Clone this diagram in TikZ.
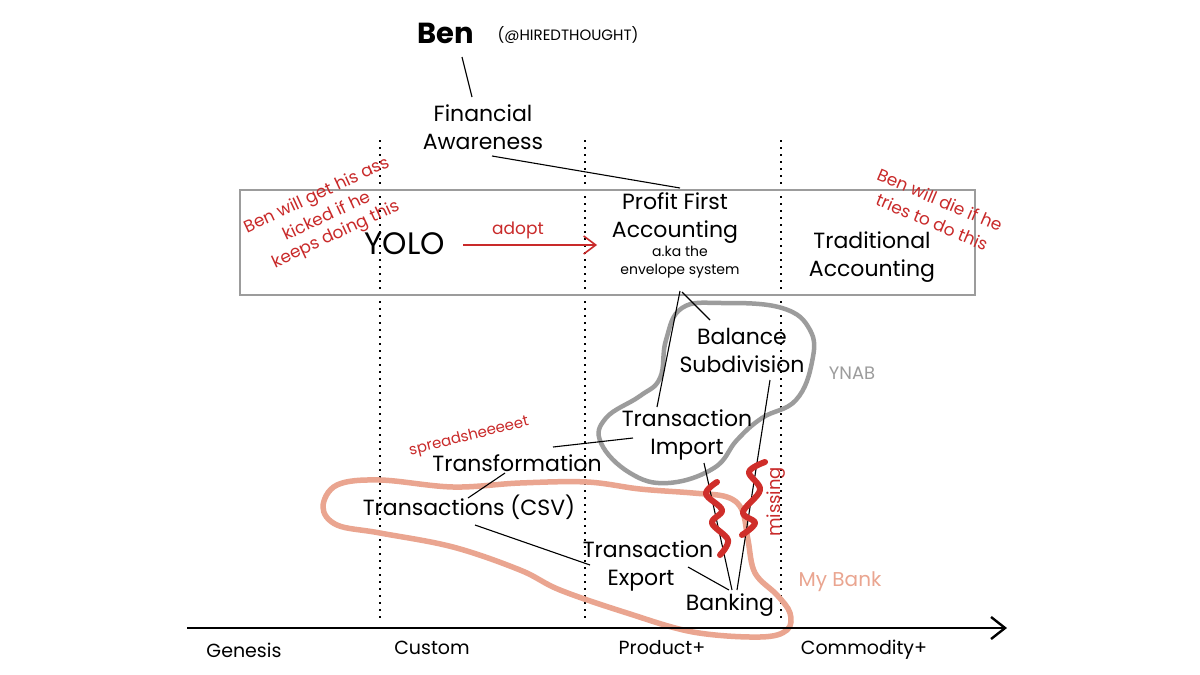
\documentclass[tikz,border=0pt]{standalone}
\usepackage{fontspec}
\setmainfont{Poppins}
\usetikzlibrary{arrows.meta}
\definecolor{redink}{HTML}{C92A2A}
\definecolor{grayink}{HTML}{9C9C9C}
\definecolor{salmon}{HTML}{EAA590}
\definecolor{squig}{HTML}{CF2E2A}
\begin{document}
\begin{tikzpicture}[x=1pt,y=-1pt,
  lbl/.style={font=\fontsize{22}{28}\selectfont, align=center, inner sep=0pt},
  small/.style={font=\fontsize{14}{18}\selectfont, align=center, inner sep=0pt},
  note/.style={font=\fontsize{17}{21}\selectfont, text=redink, align=center, inner sep=0pt},
  axislbl/.style={font=\fontsize{19}{22}\selectfont, inner sep=0pt},
  link/.style={draw=black, line width=1.1pt},
  guide/.style={draw=black, line width=1.4pt, dash pattern=on 2pt off 5pt},
  frame/.style={draw=grayink, line width=1.3pt},
  ynabblob/.style={draw=grayink, line width=4.5pt, line join=round},
  bankblob/.style={draw=salmon, line width=5.5pt, line join=round},
  squiggle/.style={draw=squig, line width=6pt, line cap=round, line join=round},
]
\useasboundingbox[fill=white] (0,0) rectangle (1200,675);

% evolution guides
\foreach \gx in {380,585,781} \draw[guide] (\gx,140) -- (\gx,622);

% frame around the accounting row
\draw[frame] (240,190) rectangle (975,295);

% YNAB blob
\draw[ynabblob] plot[smooth cycle, tension=0.7] coordinates {(682,308) (722,303) (782,308) (810,330) (812,362) (796,400) (762,418) (737,440) (714,468) (668,483) (630,473) (601,443) (606,418) (640,396) (660,378) (666,340)};

% My Bank blob
\draw[bankblob] plot[smooth cycle, tension=0.6] coordinates {(337,485) (380,480) (453,487) (520,483) (587,482) (640,489) (693,493) (727,497) (742,510) (748,540) (755,573) (777,595) (790,613) (787,630) (760,637) (693,632) (627,613) (560,590) (520,570) (453,547) (380,533) (337,525) (323,507)};

% axis
\draw[line width=2.4pt, -{Straight Barb[length=14pt,width=22pt,line width=2.4pt]}] (187,628) -- (1007,628);

% nodes
\node[font=\fontsize{29}{34}\selectfont\bfseries, inner sep=0pt] (ben) at (446,33) {Ben};
\node[font=\fontsize{15}{18}\selectfont, inner sep=0pt] (handle) at (568,35) {(@HIREDTHOUGHT)};
\node[lbl] (fin) at (483,127) {Financial\\Awareness};
\node[font=\fontsize{31}{36}\selectfont, inner sep=0pt] (yolo) at (405,244) {YOLO};
\node[note] (adoptlbl) at (518,230) {adopt};
\node[lbl] (pf) at (675,218) {Profit First\\Accounting};
\node[small] (aka) at (680,262) {a.ka the\\envelope system};
\node[lbl] (trad) at (872,257) {Traditional\\Accounting};
\node[note, rotate=25] (yolonote1) at (317,196) {Ben will get his ass};
\node[note, rotate=25] (yolonote2) at (326,215) {kicked if he};
\node[note, rotate=25] (yolonote3) at (336,235) {keeps doing this};
\node[note, rotate=-23] (tradnote1) at (940,200) {Ben will die if he};
\node[note, rotate=-23] (tradnote2) at (932,222) {tries to do this};
\node[lbl] (bal) at (742,350) {Balance\\Subdivision};
\node[font=\fontsize{18}{20}\selectfont, text=grayink, inner sep=0pt] (ynab) at (852,373) {YNAB};
\node[lbl] (import) at (687,435) {Transaction\\Import};
\node[note, rotate=14, font=\fontsize{15}{18}\selectfont] (sheet) at (469,437) {spreadsheeeeet};
\node[lbl] (tf) at (517,463) {Transformation};
\node[lbl] (csv) at (469,507) {Transactions (CSV)};
\node[lbl] (export) at (641,566) {\hspace*{14pt}Transaction\\Export};
\node[lbl] (banking) at (730,605) {Banking};
\node[note, rotate=90, font=\fontsize{18}{21}\selectfont] (missing) at (776,502) {missing};
\node[font=\fontsize{20}{22}\selectfont, text=salmon, inner sep=0pt] (mybank) at (840,582) {My Bank};
\node[axislbl] (genesis) at (244,650) {Genesis};
\node[axislbl] (custom) at (432,648) {Custom};
\node[axislbl] (product) at (662,648) {Product+};
\node[axislbl] (commodity) at (864,650) {Commodity+};

% connectors
\draw[link] ([shift={(16,24)}]ben.center) -- ([shift={(-11,-30)}]fin.center);
\draw[link] ([shift={(9,29)}]fin.center) -- ([shift={(5,-30)}]pf.center);
\draw[redink, line width=1.6pt, -{Straight Barb[length=12pt,width=18pt,line width=1.6pt]}] ([shift={(58,1)}]yolo.center) -- ([shift={(-78,27)}]pf.center);
\draw[link] ([shift={(0,29)}]aka.center) -- ([shift={(-30,-28)}]import.center);
\draw[link] ([shift={(2,30)}]aka.center) -- ([shift={(-32,-30)}]bal.center);
\draw[link] ([shift={(28,30)}]bal.center) -- ([shift={(7,-15)}]banking.center);
\draw[link] ([shift={(17,28)}]import.center) -- ([shift={(2,-15)}]banking.center);
\draw[link] ([shift={(47,1)}]export.center) -- ([shift={(-1,-15)}]banking.center);
\draw[link] ([shift={(36,-16)}]tf.center) -- ([shift={(-54,3)}]import.center);
\draw[link] ([shift={(-12,10)}]tf.center) -- ([shift={(-1,-9)}]csv.center);
\draw[link] ([shift={(6,18)}]csv.center) -- ([shift={(-51,-1)}]export.center);

% missing-link squiggles
\draw[squiggle] plot[smooth, tension=0.6] coordinates {(717,482) (706,494) (722,510) (712,523) (728,540) (720,555)};
\draw[squiggle] plot[smooth, tension=0.6] coordinates {(765,462) (749,472) (760,490) (743,512) (755,523) (742,535)};
\end{tikzpicture}
\end{document}
